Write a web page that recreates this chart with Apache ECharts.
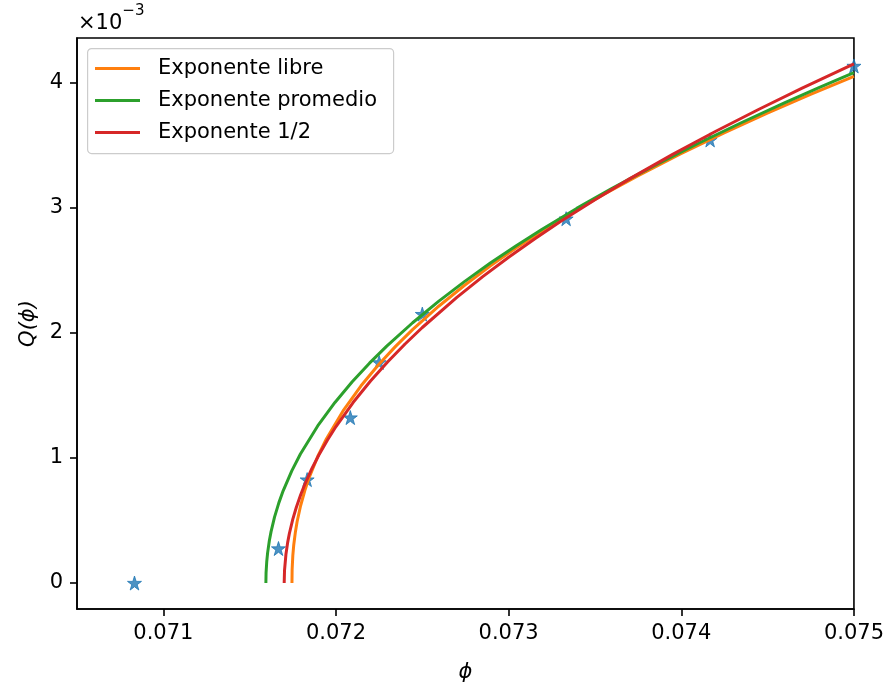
<!DOCTYPE html>
<html>
<head>
<meta charset="utf-8">
<script src="https://cdn.jsdelivr.net/npm/echarts@6/dist/echarts.min.js"></script>
<style>html,body{margin:0;padding:0;background:#fff}#c{width:887px;height:688px}</style>
</head>
<body>
<div id="c"></div>
<script>
// Data (Q values in units of 1e-3)
const phiStar = [0.070833, 0.071667, 0.071833, 0.072083, 0.07225, 0.0725, 0.073333, 0.074167, 0.075];
const qStar   = [0.0, 0.276, 0.827, 1.323, 1.764, 2.15, 2.913, 3.543, 4.134];

const phiLibre = [0.071745, 0.071746, 0.07175, 0.071755, 0.071765, 0.071775, 0.071795, 0.07182, 0.071845, 0.071895, 0.071945, 0.072045, 0.072145, 0.072245, 0.072345, 0.072445, 0.072595, 0.072745, 0.072895, 0.073045, 0.073195, 0.073345, 0.073545, 0.073745, 0.073995, 0.074245, 0.074495, 0.074745, 0.075];
const qLibre   = [0, 0.106, 0.219, 0.300, 0.409, 0.492, 0.618, 0.742, 0.845, 1.014, 1.154, 1.385, 1.577, 1.743, 1.892, 2.028, 2.213, 2.381, 2.536, 2.680, 2.814, 2.942, 3.102, 3.253, 3.430, 3.596, 3.754, 3.904, 4.05];

const phiProm = [0.071594, 0.071595, 0.071599, 0.071604, 0.071614, 0.071624, 0.071644, 0.071669, 0.071694, 0.071744, 0.071794, 0.071894, 0.071994, 0.072094, 0.072194, 0.072294, 0.072444, 0.072594, 0.072744, 0.072894, 0.073044, 0.073194, 0.073394, 0.073594, 0.073844, 0.074094, 0.074344, 0.074594, 0.074794, 0.075];
const qProm   = [0, 0.079, 0.172, 0.241, 0.338, 0.411, 0.527, 0.641, 0.737, 0.897, 1.032, 1.256, 1.444, 1.609, 1.758, 1.894, 2.081, 2.252, 2.410, 2.558, 2.697, 2.828, 2.995, 3.152, 3.337, 3.512, 3.678, 3.837, 3.958, 4.08];

const phiHalf = [0.0717, 0.071702, 0.07171, 0.07172, 0.07173, 0.07175, 0.07177, 0.071795, 0.07182, 0.07186, 0.0719, 0.07195, 0.072, 0.0721, 0.0722, 0.0723, 0.0724, 0.0725, 0.0727, 0.07285, 0.073, 0.07315, 0.0733, 0.0735, 0.0737, 0.07395, 0.0742, 0.07445, 0.0747, 0.075];
const qHalf   = [0, 0.102, 0.228, 0.323, 0.396, 0.511, 0.604, 0.704, 0.791, 0.914, 1.022, 1.142, 1.251, 1.445, 1.615, 1.769, 1.911, 2.043, 2.284, 2.450, 2.605, 2.751, 2.890, 3.065, 3.231, 3.427, 3.612, 3.788, 3.957, 4.150];

const xTicks = [0.071, 0.072, 0.073, 0.074, 0.075];
const yTicks = [0, 1, 2, 3, 4];
const seriesNames = ['Exponente libre', 'Exponente promedio', 'Exponente 1/2'];

const zip = (a, b) => a.map((v, i) => [v, b[i]]);
const FONT = 'DejaVu Sans';
const FS = 21;
const starPath = 'path://M50,0 L61.2,34.5 L97.6,34.5 L68.2,55.9 L79.4,90.5 L50,69.1 L20.6,90.5 L31.8,55.9 L2.4,34.5 L38.8,34.5 Z';

const chart = echarts.init(document.getElementById('c'), null, {renderer: 'canvas'});
chart.setOption({
  animation: false,
  backgroundColor: '#fff',
  grid: {left: 77, right: 33, top: 38, bottom: 71, show: true, borderColor: '#000', borderWidth: 1.6, backgroundColor: 'transparent'},
  xAxis: {
    type: 'value', min: 0.0705, max: 0.075,
    name: 'ϕ', nameLocation: 'middle', nameGap: 53,
    nameTextStyle: {fontFamily: FONT, fontSize: FS, fontStyle: 'italic', color: '#000'},
    axisLine: {show: true, onZero: false, lineStyle: {color: '#000', width: 1.6}},
    axisTick: {show: true, length: 7, lineStyle: {color: '#000', width: 1.6}, customValues: xTicks},
    axisLabel: {fontFamily: FONT, fontSize: FS, color: '#000', margin: 14, customValues: xTicks,
      formatter: v => v.toFixed(3)},
    splitLine: {show: false}
  },
  yAxis: {
    type: 'value', min: -0.2075, max: 4.3575,
    name: 'Q(ϕ)', nameLocation: 'middle', nameGap: 35, nameRotate: 90,
    nameTextStyle: {fontFamily: FONT, fontSize: FS, fontStyle: 'italic', color: '#000'},
    axisLine: {show: true, onZero: false, lineStyle: {color: '#000', width: 1.6}},
    axisTick: {show: true, length: 7, lineStyle: {color: '#000', width: 1.6}, customValues: yTicks},
    axisLabel: {fontFamily: FONT, fontSize: FS, color: '#000', margin: 14, customValues: yTicks,
      formatter: v => String(Math.round(v))},
    splitLine: {show: false}
  },
  legend: {
    orient: 'vertical', left: 95, top: 58, padding: 0,
    icon: 'rect', itemWidth: 45, itemHeight: 3, itemGap: 11,
    textStyle: {fontFamily: FONT, fontSize: FS, color: '#000', padding: [0, 0, 0, 13]},
    data: seriesNames
  },
  graphic: [
    {type: 'rect', left: 87, top: 48, z: 0, shape: {width: 306, height: 105, r: 4},
     style: {fill: 'rgba(255,255,255,0.8)', stroke: '#cccccc', lineWidth: 1.2}},
    {type: 'text', left: 78, top: 4, z: 10,
     style: {text: '{a|×10}{b|−3}', rich: {
       a: {fontFamily: FONT, fontSize: FS, fill: '#000', verticalAlign: 'bottom', lineHeight: 30},
       b: {fontFamily: FONT, fontSize: 15, fill: '#000', verticalAlign: 'top', lineHeight: 30, padding: [0, 0, 12, 0]}
     }}}
  ],
  series: [
    {type: 'scatter', name: 'datos', data: zip(phiStar, qStar), symbol: starPath, symbolSize: 14,
     itemStyle: {color: '#1f77b4', borderColor: '#1f77b4', borderWidth: 1}, clip: true, z: 1},
    {type: 'line', name: seriesNames[0], data: zip(phiLibre, qLibre), symbol: 'none', showSymbol: false,
     lineStyle: {color: '#ff7f0e', width: 3}, itemStyle: {color: '#ff7f0e'}, clip: true, z: 2},
    {type: 'line', name: seriesNames[1], data: zip(phiProm, qProm), symbol: 'none', showSymbol: false,
     lineStyle: {color: '#2ca02c', width: 3}, itemStyle: {color: '#2ca02c'}, clip: true, z: 3},
    {type: 'line', name: seriesNames[2], data: zip(phiHalf, qHalf), symbol: 'none', showSymbol: false,
     lineStyle: {color: '#d62728', width: 3}, itemStyle: {color: '#d62728'}, clip: true, z: 4}
  ]
});
</script>
</body>
</html>
